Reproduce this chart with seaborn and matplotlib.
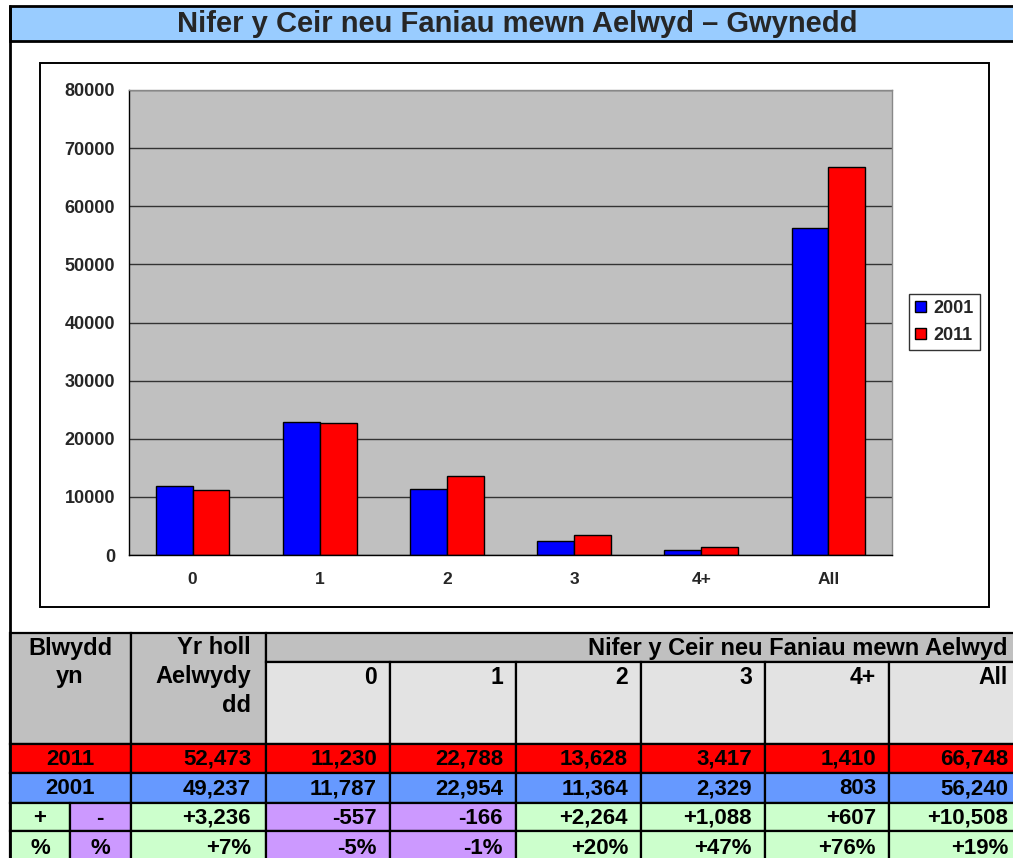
import numpy as np
import pandas as pd
import seaborn as sns
import matplotlib.pyplot as plt
from matplotlib.patches import Rectangle
from matplotlib.ticker import FixedLocator

# Data
categories = ["0", "1", "2", "3", "4+", "All"]
v2001 = [11787, 22954, 11364, 2329, 803, 56240]
v2011 = [11230, 22788, 13628, 3417, 1410, 66748]
households = {"2011": 52473, "2001": 49237}
hh_diff = 3236
hh_pct = 7
diffs = [-557, -166, 2264, 1088, 607, 10508]
pcts = [-5, -1, 20, 47, 76, 19]

title = "Nifer y Ceir neu Faniau mewn Aelwyd \u2013 Gwynedd"

sns.set_style("white")
plt.rcParams['font.family'] = ['Liberation Sans', 'DejaVu Sans']
plt.rcParams['font.weight'] = 'bold'

W, H = 1013, 858
fig = plt.figure(figsize=(W / 100, H / 100), dpi=100)

# background axes in pixel coords
bg = fig.add_axes([0, 0, 1, 1])
bg.set_xlim(0, W)
bg.set_ylim(H, 0)
bg.axis("off")

GREEN = "#ccffcc"
PURPLE = "#cc99ff"
RED = "#ff0000"
BLUE2 = "#6699ff"
GRAY = "#c0c0c0"
LGRAY = "#e3e3e3"


def cell(x0, y0, x1, y1, fc, lw=1.6):
    bg.add_patch(Rectangle((x0, y0), x1 - x0, y1 - y0, facecolor=fc,
                           edgecolor="black", linewidth=lw))


def txt(x, y, s, ha="right", fs=16):
    bg.text(x, y, s, ha=ha, va="center", fontsize=fs, fontweight="bold", color="black")


# title bar and page border
cell(10, 6, W + 5, 41, "#99ccff", lw=2)
bg.text(517, 24, title, ha="center", va="center", fontsize=21, fontweight="bold")
bg.plot([10, 10], [6, H], color="black", lw=2)

# chart frame
cell(40, 63, 989, 607, "white", lw=1.4)

# table
cols = [10, 70, 131, 266, 390, 516, 641, 765, 889, W + 5]
rows = [633, 662, 744, 773, 803, 831, H + 5]

cell(10, rows[0], 131, rows[2], GRAY)
cell(131, rows[0], 266, rows[2], GRAY)
cell(266, rows[0], W + 5, rows[1], GRAY)
for i in range(6):
    cell(cols[3 + i], rows[1], cols[4 + i], rows[2], LGRAY)
    txt(cols[4 + i] - 13 if i < 5 else 1008, rows[1] + 15, categories[i], fs=16.5)
txt(70, 648, "Blwydd", ha="center", fs=17)
txt(70, 677, "yn", ha="center", fs=17)
txt(251, 648, "Yr holl", fs=17)
txt(251, 677, "Aelwydy", fs=17)
txt(251, 706, "dd", fs=17)
txt(1008, 648, "Nifer y Ceir neu Faniau mewn Aelwyd", fs=17)

# year rows
for r, (yr, vals, fc) in enumerate([("2011", v2011, RED), ("2001", v2001, BLUE2)]):
    y0, y1 = rows[2 + r], rows[3 + r]
    ym = (y0 + y1) / 2 + 1
    cell(10, y0, 131, y1, fc)
    txt(70, ym, yr, ha="center")
    cell(131, y0, 266, y1, fc)
    txt(251, ym, f"{households[yr]:,}")
    for i, v in enumerate(vals):
        cell(cols[3 + i], y0, cols[4 + i], y1, fc)
        txt(cols[4 + i] - 13 if i < 5 else 1008, ym, f"{v:,}")

# difference rows
for r, (sym, hh, vals, fmt) in enumerate([("+", hh_diff, diffs, "{:+,}"),
                                           ("%", hh_pct, pcts, "{:+}%")]):
    y0, y1 = rows[4 + r], rows[5 + r]
    ym = (y0 + y1) / 2 + 1
    cell(10, y0, 70, y1, GREEN)
    txt(40, ym, sym, ha="center")
    cell(70, y0, 131, y1, PURPLE)
    txt(100, ym, "-" if sym == "+" else "%", ha="center")
    cell(131, y0, 266, y1, GREEN if hh >= 0 else PURPLE)
    txt(251, ym, fmt.format(hh))
    for i, v in enumerate(vals):
        cell(cols[3 + i], y0, cols[4 + i], y1, GREEN if v >= 0 else PURPLE)
        txt(cols[4 + i] - 13 if i < 5 else 1008, ym, fmt.format(v))

# bar chart
df = pd.DataFrame({
    "cat": categories * 2,
    "year": ["2001"] * 6 + ["2011"] * 6,
    "value": v2001 + v2011,
})
ax = fig.add_axes([129 / W, 1 - 555 / H, (892 - 129) / W, (555 - 90) / H])
ax.set_facecolor(GRAY)
sns.barplot(data=df, x="cat", y="value", hue="year",
            palette={"2001": "#0000ff", "2011": "#ff0000"}, saturation=1,
            width=0.58, edgecolor="black", linewidth=1, ax=ax, legend=True)
ax.set_xlim(-0.5, 5.5)
ax.set_ylim(0, 80000)
ax.set_yticks(np.arange(0, 80001, 10000))
ax.yaxis.grid(True, color="#333333", lw=1)
ax.set_axisbelow(True)
ax.set_xlabel("")
ax.set_ylabel("")
for s in ["left", "bottom"]:
    ax.spines[s].set_color("black")
    ax.spines[s].set_linewidth(1)
for s in ["top", "right"]:
    ax.spines[s].set_color("#888888")
    ax.spines[s].set_linewidth(1)
ax.tick_params(axis="y", direction="out", length=5, width=1, labelsize=13, pad=5)
ax.tick_params(axis="x", which="major", length=0, labelsize=12.5, pad=12)
ax.xaxis.set_minor_locator(FixedLocator(np.arange(-0.5, 6, 1)))
ax.tick_params(axis="x", which="minor", direction="out", length=5, width=1)
for lab in ax.get_xticklabels() + ax.get_yticklabels():
    lab.set_fontweight("bold")

leg = ax.legend(loc="center left", bbox_to_anchor=(909 / W, 1 - 322 / H),
                bbox_transform=fig.transFigure, frameon=True, fancybox=False,
                edgecolor="black", fontsize=13, handlelength=0.6, handleheight=0.6,
                handletextpad=0.4, borderpad=0.35, labelspacing=0.55, borderaxespad=0)
leg.get_frame().set_linewidth(1)
for t in leg.get_texts():
    t.set_fontweight("bold")

fig.savefig("out.png", dpi=100)
